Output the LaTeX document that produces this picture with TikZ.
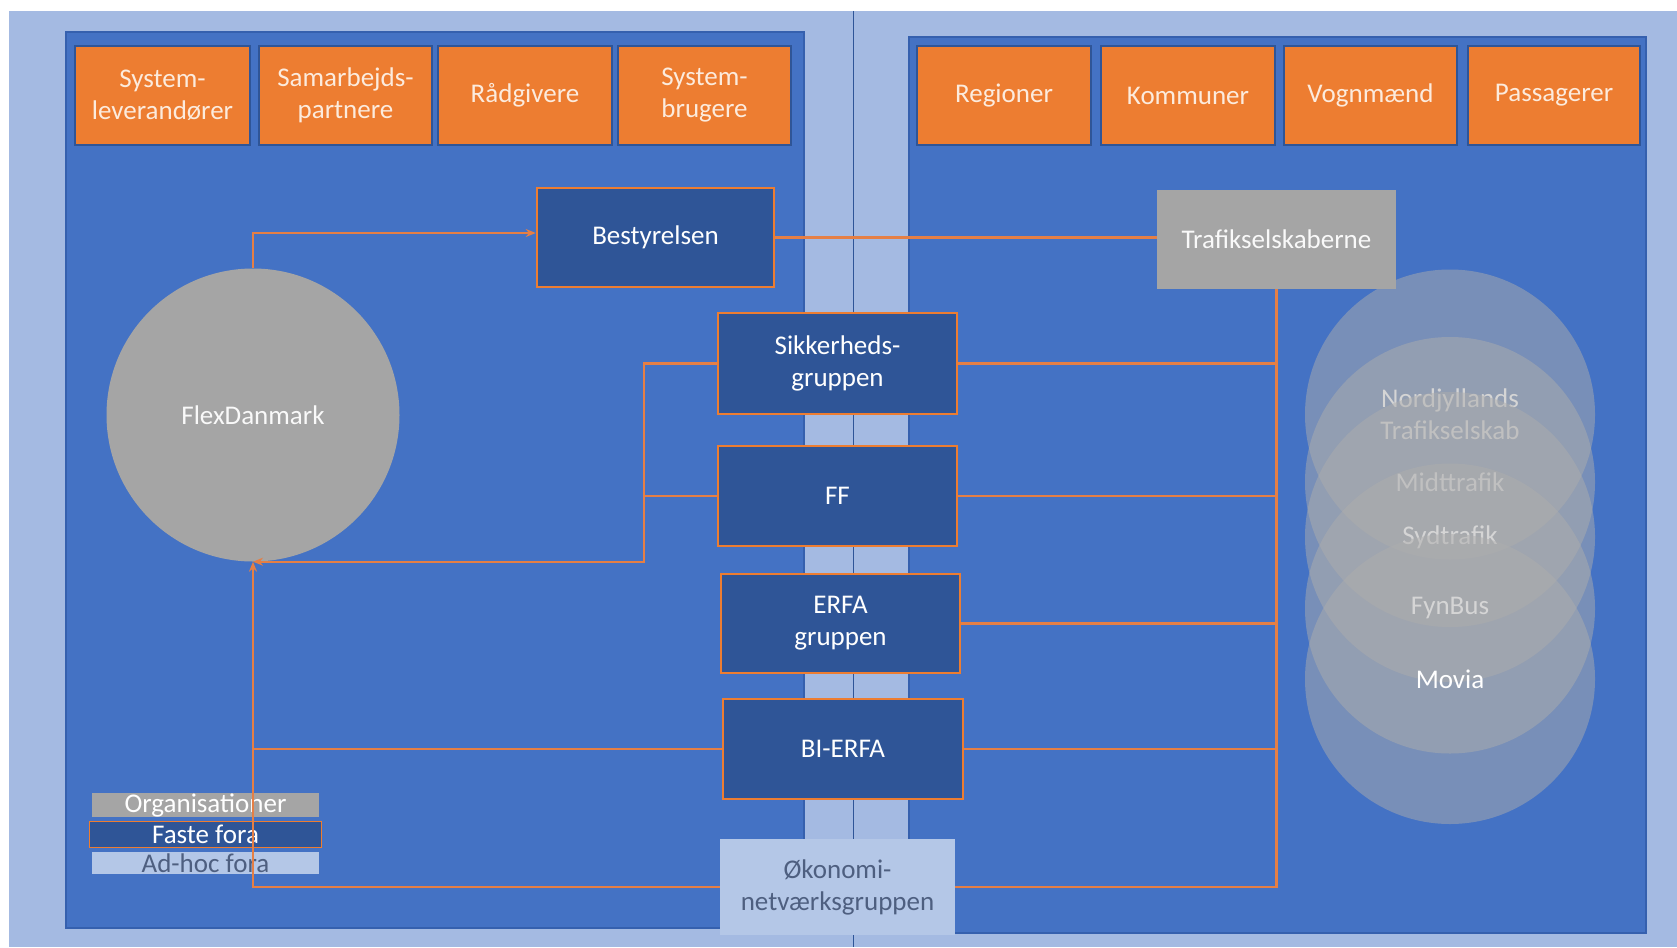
\documentclass[tikz,border=0pt]{standalone}
\usepackage{fontspec}
\setmainfont{Carlito}
\usetikzlibrary{arrows.meta}
\definecolor{bgblue}{HTML}{A4BAE2}
\definecolor{panelblue}{HTML}{4472C4}
\definecolor{paneledge}{HTML}{3560AE}
\definecolor{darkblue}{HTML}{2F5597}
\definecolor{orangec}{HTML}{ED7D31}
\definecolor{linec}{HTML}{E57F45}
\definecolor{cream}{HTML}{FCEBDD}
\definecolor{greyc}{HTML}{A5A5A5}
\definecolor{circgrey}{HTML}{ADADAD}
\definecolor{lightc}{HTML}{B4C7E7}
\definecolor{slate}{HTML}{4E5F80}
\newcommand{\fsz}{\fontsize{27}{32}\selectfont}
\begin{document}
\begin{tikzpicture}[x=1pt,y=-1pt,
  topbox/.style={rectangle, fill=orangec, draw=darkblue, line width=1.2pt, text=cream,
    align=center, font=\fsz, inner sep=0pt, minimum height=99pt},
  forum/.style={rectangle, fill=darkblue, draw=orangec, line width=2.5pt, text=white,
    align=center, font=\fsz, inner sep=0pt},
  orgbox/.style={rectangle, fill=greyc, text=white, align=center, font=\fsz, inner sep=0pt},
  adhoc/.style={rectangle, fill=lightc, text=slate, align=center, font=\fsz, inner sep=0pt},
  tcirc/.style={circle, fill=circgrey, fill opacity=0.5, text opacity=1, text=white,
    align=center, font=\fsz, inner sep=0pt, minimum size=290pt},
  conn/.style={draw=linec, line width=2.2pt},
  arr/.style={-{Stealth[length=10pt,width=8pt]}}
]
\useasboundingbox (0,0) rectangle (1677,947);
% backgrounds
\fill[white] (0,0) rectangle (1677,947);
\fill[bgblue] (9,11) rectangle (1677,947);
\draw[darkblue, line width=1.8pt] (853.5,11) -- (853.5,947);
\filldraw[fill=panelblue, draw=paneledge, line width=1.2pt] (66,32) rectangle (804,928);
\filldraw[fill=panelblue, draw=paneledge, line width=1.2pt] (909,37) rectangle (1646,933);

% top boxes left
\node[topbox, minimum width=175pt] (sl) at (162.5,95.5) {System-\\leverandører};
\node[topbox, minimum width=173pt] (sp) at (345.5,95.5) {Samarbejds-\\partnere};
\node[topbox, minimum width=174pt] (rg) at (525,95.5) {Rådgivere};
\node[topbox, minimum width=173pt] (sb) at (704.5,95.5) {System-\\brugere};
% top boxes right
\node[topbox, minimum width=174pt] (re) at (1004,95.5) {Regioner};
\node[topbox, minimum width=174pt] (ko) at (1188,95.5) {Kommuner};
\node[topbox, minimum width=173pt] (vo) at (1370.5,95.5) {Vognmænd};
\node[topbox, minimum width=172pt] (pa) at (1554,95.5) {Passagerer};

% right circles
\node[tcirc] (c1) at (1450,414.5) {Nordjyllands\\Trafikselskab};
\node[tcirc] (c2) at (1450,482) {Midttrafik};
\node[tcirc] (c3) at (1450,537) {Sydtrafik};
\node[tcirc] (c4) at (1450,608.5) {FynBus};
\node[tcirc] (c5) at (1450,679) {Movia};

% legend
\node[orgbox, minimum width=227pt, minimum height=22pt] (lg1) at (205.5,805) {Organisationer};
\node[forum, line width=1.5pt, minimum width=232pt, minimum height=26pt] (lg2) at (205.5,834.5) {Faste fora};
\node[adhoc, minimum width=227pt, minimum height=22pt] (lg3) at (205.5,863) {Ad-hoc fora};

% main nodes
\node[circle, fill=greyc, text=white!95!gray, font=\fsz, inner sep=0pt, minimum size=293pt] (flex) at (253,415) {FlexDanmark};
\node[forum, minimum width=237pt, minimum height=99pt] (best) at (655.5,237.5) {Bestyrelsen};
\node[rectangle, fill=greyc, text=white!95!gray, font=\fsz, inner sep=0pt, minimum width=239pt, minimum height=99pt] (traf) at (1276.5,239.5) {Trafikselskaberne};
\node[forum, minimum width=239pt, minimum height=101pt] (sik) at (837.5,363.5) {Sikkerheds-\\gruppen};
\node[forum, minimum width=239pt, minimum height=100pt] (ff) at (837.5,496) {FF};
\node[forum, minimum width=239pt, minimum height=99pt] (erfa) at (840.5,623.5) {ERFA\\gruppen};
\node[forum, minimum width=240pt, minimum height=100pt] (bi) at (843,749) {BI-ERFA};
\node[adhoc, minimum width=235pt, minimum height=96pt] (oko) at (837.5,887) {Økonomi-\\netværksgruppen};

% connectors
\coordinate (lj) at (644,0);
\draw[conn, arr] (flex.north) |- ([yshift=4.5pt]best.west);
\draw[conn] (best.east) -- (best.east -| traf.west);
\draw[conn] (traf.south) |- (oko.east);
\draw[conn] (sik.east) -- (sik.east -| traf.south);
\draw[conn] (ff.east) -- (ff.east -| traf.south);
\draw[conn] (erfa.east) -- (erfa.east -| traf.south);
\draw[conn] (bi.east) -- (bi.east -| traf.south);
\draw[conn, arr] (sik.west) -- (sik.west -| lj) |- (flex.south);
\draw[conn] (ff.west) -- (ff.west -| lj);
\draw[conn, arr] (oko.west) -| (flex.south);
\draw[conn] (bi.west) -- (bi.west -| flex.south);
\end{tikzpicture}
\end{document}
